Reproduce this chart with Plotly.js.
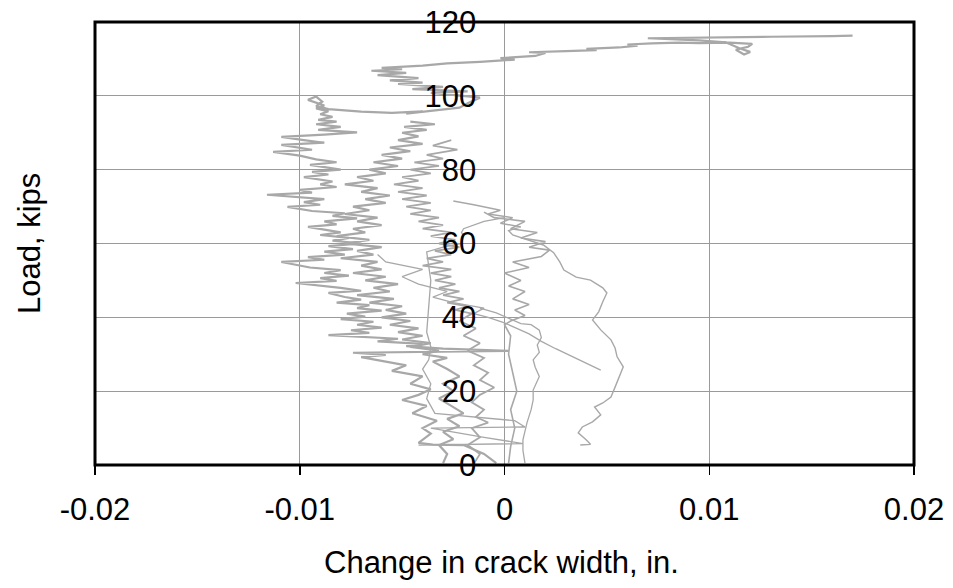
<!DOCTYPE html>
<html>
<head>
<meta charset="utf-8">
<script src="https://cdn.plot.ly/plotly-3.0.1.min.js"></script>
<style>html,body{margin:0;padding:0;background:#fff;}#chart{width:953px;height:588px;}</style>
</head>
<body>
<div id="chart"></div>
<script>
// Axis ticks
const xTickVals = [-0.02, -0.01, 0, 0.01, 0.02];
const xTickText = ["-0.02", "-0.01", "0", "0.01", "0.02"];
const yTickVals = [0, 20, 40, 60, 80, 100, 120];
const xTitle = "Change in crack width, in.";
const yTitle = "Load, kips";

// Gauge 1 (reaches ultimate load)
const g1x = [-0.0004,-0.0010,-0.0020,-0.0035,-0.0042,-0.0036,-0.0040,-0.0033,-0.0045,-0.0038,-0.0050,-0.0042,-0.0036,-0.0046,-0.0040,-0.0055,-0.0048,
 -0.0062,-0.0070,-0.0058,-0.0074,0.0002,-0.0030,-0.0048,-0.0040,-0.0062,-0.0052,-0.0086,-0.0066,-0.0075,-0.0060,-0.0072,-0.0064,-0.0080,-0.0068,-0.0077,-0.0060,-0.0072,-0.0066,-0.0082,-0.0070,-0.0078,-0.0086,-0.0070,-0.0080,-0.0102,-0.0082,-0.0090,-0.0076,-0.0088,-0.0080,-0.0095,-0.0109,-0.0088,-0.0096,-0.0078,-0.0088,-0.0074,-0.0086,-0.0070,-0.0084,-0.0076,-0.0090,-0.0080,-0.0096,-0.0082,-0.0088,-0.0072,-0.0084,-0.0078,-0.0094,-0.0106,-0.0090,-0.0098,-0.0088,-0.0116,-0.0094,-0.0100,-0.0082,-0.0090,-0.0084,-0.0098,-0.0086,-0.0094,-0.0080,-0.0095,-0.0082,-0.0092,-0.0100,-0.0113,-0.0094,-0.0109,-0.0088,-0.0098,-0.0109,-0.0088,-0.0072,-0.0091,-0.0080,-0.0092,-0.0082,-0.0091,-0.0084,-0.0090,-0.0086,-0.0092,-0.0088,-0.0096,-0.0092,
 -0.0089,-0.0092,-0.0086,-0.0070,-0.0055,-0.0040,-0.0048,-0.0030,-0.0022,-0.0018,-0.0012,-0.0024,-0.0036,-0.0018,-0.0045,-0.0030,-0.0052,-0.0040,-0.0056,-0.0042,-0.0062,-0.0048,-0.0065,-0.0050,-0.0060,-0.0040,-0.0028,-0.0012,0.0005,-0.0002,0.0015,0.0020,0.0012,0.0030,0.0045,0.0040,0.0056,0.0065,0.0060,0.0072,0.0085,0.0095,0.0110,0.0121,0.0119,0.0113,0.0117,0.0120,0.0115,0.0108,0.0095,0.0070,0.0100,0.0130,0.0160,0.0170];
const g1y = [0.5,3,5.4,5.5,6,8.5,10,12,14,16,17.6,19,20.5,22,24,25.5,27,
 28.5,29.2,29.8,30.4,30.9,31.5,32.2,32.8,33.5,34.2,35.2,35.8,36.5,37.2,38,38.8,39.5,40.2,41,41.8,42.5,43.3,44,44.8,45.5,46.6,47.2,48,49.3,49.9,50.6,51.3,52,52.8,53.5,55,55.6,56.3,57,57.8,58.5,59.3,60,60.8,61.5,62.3,63,64.5,65.2,66,66.8,67.5,68.2,68.8,69.9,70.5,71.2,72,73.2,73.8,74.5,75.3,76,76.8,78,78.7,79.4,80,81.3,82,82.8,83.8,84.8,85.4,86.7,87.3,88,88.9,89.5,90.1,90.8,91.6,92.3,93,93.5,94.3,95,95.8,96.6,97.4,98.9,99.8,
 98.4,97.2,96.4,95.7,95.4,95.8,95.2,96.2,96.8,98,99.5,100.2,100.8,101.2,101.8,102.4,103.2,103.6,104.2,104.8,105.6,106.2,106.8,107.2,107.6,108.2,108.8,109.2,109.8,110.2,110.8,111.6,111.8,112.1,112.4,112.7,113.1,113.6,113.9,114.2,114.4,114.3,114.4,114.1,113.3,112.5,111.2,111.9,112.8,114.5,115,115.6,115.9,116,116.2,116.3];

// Gauge 2
const g2x = [-0.0030,-0.0028,-0.0032,-0.0025,-0.0030,-0.0022,-0.0028,-0.0020,-0.0026,-0.0032,-0.0025,-0.0030,-0.0022,-0.0028,
 -0.0035,-0.0028,-0.0040,-0.0032,-0.0046,-0.0036,-0.0050,-0.0040,-0.0052,-0.0042,-0.0056,-0.0046,-0.0060,-0.0048,-0.0058,-0.0050,-0.0066,-0.0054,-0.0072,-0.0056,-0.0064,-0.0052,-0.0068,-0.0058,-0.0074,-0.0060,-0.0070,-0.0062,-0.0080,-0.0064,-0.0072,-0.0060,-0.0078,-0.0066,-0.0082,-0.0068,-0.0074,-0.0060,-0.0072,-0.0062,-0.0078,-0.0066,-0.0074,-0.0058,-0.0068,-0.0056,-0.0070,-0.0062,-0.0078,-0.0064,-0.0072,-0.0058,-0.0066,-0.0052,-0.0064,-0.0050,-0.0060,-0.0046,-0.0056,-0.0040,-0.0052,-0.0042,-0.0050,-0.0038,-0.0049,-0.0034,-0.0046];
const g2y = [0.5,3,5.4,7,9,10.5,12.5,14,16,18,20,22,24,26,
 28,29,30,31,32,33,34,35,36,37,38,39,40,41,42,43,44,45,46,47,48,49,50,51,52,53,54,55,56,57,58,59,60,61,62,63,64,65,66,67,68,69,70,71,72,73,74,75,76,77,78,79,80,81,82,83,84,85,86,87,88,89,90,90.8,91.6,92.3,93];

// Gauge 3
const g3x = [-0.0015,-0.0012,-0.0018,-0.0012,-0.0016,-0.0008,-0.0014,-0.0010,-0.0016,-0.0012,-0.0005,-0.0012,-0.0008,-0.0015,-0.0010,-0.0018,-0.0012,-0.0020,-0.0014,-0.0022,
 -0.0016,-0.0024,-0.0018,-0.0028,-0.0020,-0.0030,-0.0022,-0.0032,-0.0024,-0.0034,-0.0026,-0.0036,-0.0026,-0.0040,-0.0030,-0.0038,-0.0026,-0.0034,-0.0022,-0.0032,-0.0024,-0.0036,-0.0026,-0.0040,-0.0030,-0.0042,-0.0032,-0.0046,-0.0036,-0.0048,-0.0036,-0.0050,-0.0038,-0.0052,-0.0040,-0.0054,-0.0042,-0.0050,-0.0036,-0.0046,-0.0032,-0.0044,-0.0030,-0.0038,-0.0023,-0.0035,-0.0026];
const g3y = [0.3,3,5.4,7.5,10,11.5,13,15,17,19,21,23,25,27,29,31,33,35,37,39,
 41,42,43,44,45,46,47,48,49,50,51,52,53,54,55,56,57,58,59,60,61,62,63,64,65,66,67,68,69,70,71,72,73,74,75,76,77,78,79,80,81,82,83,84,85.4,86.5,88];

// Gauge 4 (right side)
const g4x = [0.0037,0.0042,0.0040,0.0036,0.0038,0.0043,0.0047,0.0044,0.0048,0.0052,0.0054,0.0056,0.0058,0.0055,0.0054,0.0052,0.0047,0.0043,0.0046,0.0048,0.0050,0.0048,0.0042,0.0035,0.0029,0.0027,0.0024,0.0019,0.0011,0.0004,0.0002,0.0008,-0.0002,0.0004,-0.0008,-0.0002,-0.0015,-0.0025];
const g4y = [5.4,5.6,6.8,8.7,10.3,11.7,13.6,15.7,16.8,18.4,21.1,23.8,26.6,29.3,31.7,33.9,36.6,39.3,41.5,44.2,46.6,48,50.1,50.9,52.8,55,57.5,59.6,61,62.3,63.5,64.5,65.5,67,68,69,70.5,71.5];

// Gauge 5 (right of zero near base)
const g5x = [0.0010,0.0009,0.0009,0.0010,0.0011,0.0013,0.0014,0.0014,0.0016,0.0017,0.0015,0.0014,0.0017,0.0016,0.0018,0.0017,0.0013,0.0008,0.0003,-0.0004,-0.0012];
const g5y = [0.5,4,6.8,9,11.5,15,17.6,20.3,22.5,24,26.5,28.5,30.5,32.5,34.5,36.5,38,38.3,39.5,41.2,42.5];

// Gauge 6 (diagonal)
const g6x = [0.0047,0.0040,0.0032,0.0025,0.0018,0.0012,0.0006,0.0000,-0.0008,-0.0015,-0.0010,-0.0025,-0.0035,-0.0028,-0.0042,-0.0050,-0.0040,-0.0058,-0.0062];
const g6y = [25.7,27.5,29.5,31.5,33.5,35.5,37,38.5,40,41,42.5,44,45.5,47,49,51,53,55,57];

// Gauge 7 (near zero line)
const g7x = [0.0002,0.0003,0.0005,0.0003,0.0006,0.0004,0.0002,0.0003,0.0000,0.0003,0.0010,0.0005,0.0012,0.0004,0.0010,0.0002,0.0008,0.0000,0.0012,0.0004,0.0018,0.0022,0.0012,0.0020,0.0008,0.0016,0.0003,0.0010,-0.0005,-0.0010];
const g7y = [0.5,5,10,15,20,25,30,35,38,39,40.5,42,43.5,45,47,48.5,50,52,53.5,55,56.5,58.2,59,60.5,61.5,63,64,66,67,68.5];

// Gauge 8 (smooth, left of zero)
const g8x = [-0.0042,0.0009,-0.0010,-0.0036,0.0010,0.0005,-0.0034,-0.0038,-0.0036,-0.0040,-0.0037,-0.0036,-0.0038,-0.0037,-0.0036,-0.0038,-0.0030,-0.0021,-0.0020,-0.0021,-0.0020,-0.0010,0.0000];
const g8y = [5.4,5.8,7.5,10,10.3,12,14,18,22,26,28.5,32,36,42,50,57.7,59,60,62,63,64,66,67];

const series = [[g1x,g1y],[g2x,g2y],[g3x,g3y],[g4x,g4y],[g5x,g5y],[g6x,g6y],[g7x,g7y],[g8x,g8y]];
const widths = [2.2,2.2,1.8,1.4,1.3,1.3,1.6,1.3];

const traces = series.map((s,i) => ({
  x: s[0], y: s[1], type: 'scatter', mode: 'lines',
  line: {color: '#a8a8a8', width: widths[i]},
  showlegend: false, hoverinfo: 'skip'
}));

const fam = 'Liberation Sans, Arial, sans-serif';

const layout = {
  width: 953, height: 588,
  margin: {l: 95, r: 39, t: 22, b: 123},
  paper_bgcolor: '#fff', plot_bgcolor: '#fff',
  font: {family: fam, color: '#000'},
  showlegend: false,
  xaxis: {
    range: [-0.02, 0.02], tickvals: xTickVals, ticktext: xTickText,
    showgrid: true, gridcolor: '#9a9a9a', gridwidth: 1, zeroline: false,
    showline: false, ticks: 'outside', ticklen: 9, tickwidth: 1.5, tickcolor: '#000',
    ticklabelstandoff: 8,
    tickfont: {size: 31, family: fam, color: '#000'}
  },
  yaxis: {
    range: [0, 120], tickvals: yTickVals,
    anchor: 'free', position: 0.5,
    showgrid: true, gridcolor: '#9a9a9a', gridwidth: 1, zeroline: false,
    showline: false, ticks: 'outside', ticklen: 22, tickcolor: 'rgba(0,0,0,0)',
    tickfont: {size: 31, family: fam, color: '#000'}
  },
  shapes: [{type: 'rect', xref: 'paper', yref: 'paper', x0: 0, x1: 1, y0: 0, y1: 1,
            line: {color: '#000', width: 3}, layer: 'above'}],
  annotations: [
    {text: xTitle, xref: 'paper', yref: 'paper', x: 0.496, y: -0.219, xanchor: 'center', yanchor: 'middle',
     showarrow: false, font: {size: 31, family: fam, color: '#000'}},
    {text: yTitle, xref: 'paper', yref: 'paper', x: -0.08, y: 0.5, xanchor: 'center', yanchor: 'middle',
     textangle: -90, showarrow: false, font: {size: 31, family: fam, color: '#000'}}
  ]
};

Plotly.newPlot('chart', traces, layout, {displayModeBar: false, staticPlot: true});
</script>
</body>
</html>
